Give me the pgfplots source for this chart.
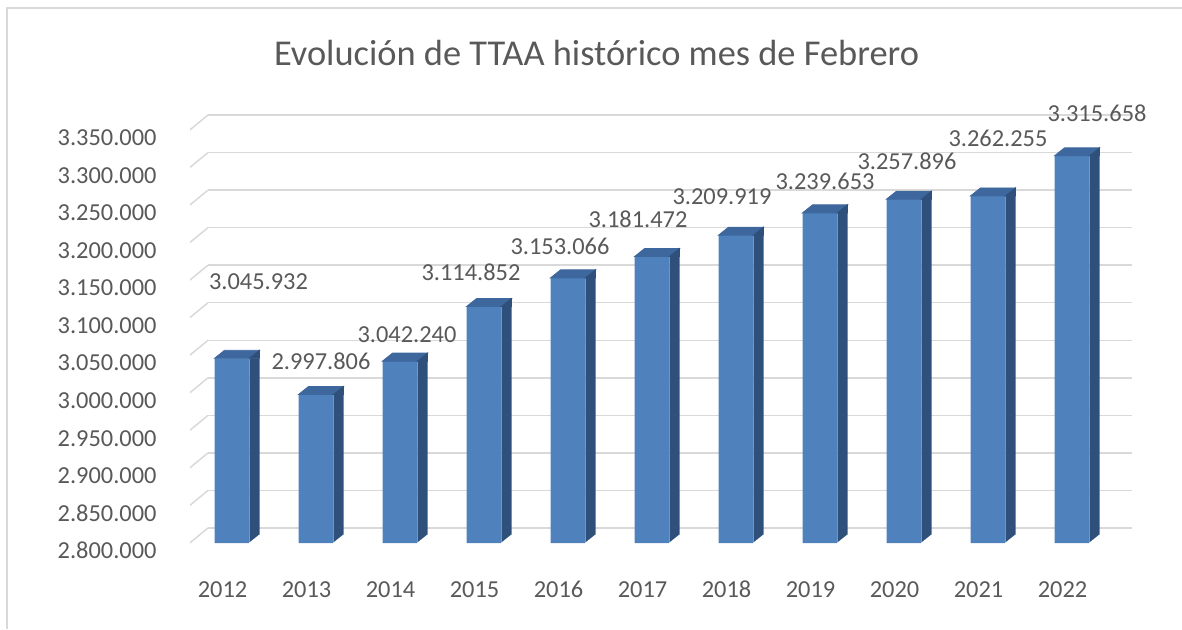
\documentclass[border=0pt]{standalone}
\usepackage{pgfplots}
\pgfplotsset{compat=1.18}
\usepackage{pgfplotstable}
\usepackage{fontspec}
\setmainfont{Carlito}
\definecolor{frontblue}{RGB}{79,129,189}
\definecolor{topblue}{RGB}{62,103,158}
\definecolor{sideblue}{RGB}{46,80,122}
\definecolor{gridgray}{RGB}{217,217,217}
\definecolor{txtgray}{RGB}{89,89,89}
\pgfdeclareplotmark{nomark}{}

\pgfplotstableread{
x v
0 3045932
1 2997806
2 3042240
3 3114852
4 3153066
5 3181472
6 3209919
7 3239653
8 3257896
9 3262255
10 3315658
}\bardata

\pgfplotstableread{
x y lab
0.315 3147500 3.045.932
1.060 3041000 2.997.806
2.083 3077000 3.042.240
2.845 3159500 3.114.852
3.905 3194100 3.153.066
4.833 3230100 3.181.472
5.833 3260700 3.209.919
7.060 3280700 3.239.653
8.036 3307300 3.257.896
9.119 3337900 3.262.255
10.298 3371200 3.315.658
}\labdata

\begin{document}
\begin{tikzpicture}
\path[use as bounding box] (0,0) rectangle (591pt,314.5pt);
\draw[gridgray, line width=1.2pt] (3.5pt,0) -- (3.5pt,310.5pt) -- (591pt,310.5pt);
\node[anchor=base, text=txtgray, inner sep=0pt] at (298.25pt,282pt)
  {\fontsize{18.2}{22}\selectfont Evolución de TTAA histórico mes de Febrero};
\begin{axis}[
  at={(95pt,43pt)}, anchor=south west,
  scale only axis, width=462pt, height=225.27pt,
  xmin=-0.5, xmax=10.5, ymin=2800000, ymax=3400000,
  axis line style={draw=none},
  major tick length=0pt,
  xtick={0,1,2,3,4,5,6,7,8,9,10},
  xticklabels={2012,2013,2014,2015,2016,2017,2018,2019,2020,2021,2022},
  ytick={2800000,2850000,2900000,2950000,3000000,3050000,3100000,3150000,3200000,3250000,3300000,3350000},
  scaled y ticks=false,
  /pgf/number format/assume math mode=true,
  yticklabel style={anchor=base east, inner sep=0pt, xshift=-16.5pt, yshift=-7.85pt,
    /pgf/number format/fixed, /pgf/number format/precision=0, /pgf/number format/1000 sep={.}},
  xticklabel style={anchor=base, inner sep=0pt, yshift=-27.35pt, xshift=-4.75pt},
  tick label style={font=\fontsize{12.2}{14}\selectfont, text=txtgray},
  ymajorgrids,
  major grid style={gridgray, line width=0.75pt, xshift=9pt, yshift=7.5pt},
]
\pgfplotsinvokeforeach{2800000,2850000,2900000,2950000,3000000,3050000,3100000,3150000,3200000,3250000,3300000,3350000}{
  \draw[gridgray, line width=0.75pt] (axis cs:-0.5,#1) ++(-5pt,-4pt) -- ++(14pt,11.5pt);
}
% side faces (dark), then front faces
\addplot[ybar, bar width=5pt, bar shift=11.25pt, fill=sideblue, draw=none] table[x=x,y=v]{\bardata};
\addplot[ybar, bar width=17.5pt, bar shift=0pt, fill=frontblue, draw=none] table[x=x,y=v]{\bardata};
% top faces and top of side faces
\addplot[scatter, only marks, mark=nomark,
  scatter/@pre marker code/.code={%
    \fill[topblue] (-8.75pt,0pt) -- (8.75pt,0pt) -- (13.75pt,4pt) -- (-3.75pt,4pt) -- cycle;
    \fill[sideblue] (8.75pt,0pt) -- (13.75pt,4pt) -- (13.75pt,0pt) -- cycle;
  },
  scatter/@post marker code/.code={},
] table[x=x,y=v]{\bardata};
% slanted bottom of side faces
\addplot[scatter, only marks, mark=nomark,
  scatter/@pre marker code/.code={%
    \fill[white] (8.75pt,-0.6pt) -- (14.2pt,-0.6pt) -- (14.2pt,4pt) -- (13.75pt,4pt) -- (8.75pt,0pt) -- cycle;
  },
  scatter/@post marker code/.code={},
] table[x=x,y expr=2800000]{\bardata};
\addplot[only marks, mark=nomark, point meta=explicit symbolic,
  nodes near coords,
  every node near coord/.append style={anchor=base, yshift=-3.85pt, inner sep=0pt,
    font=\fontsize{12.2}{14}\selectfont, text=txtgray}]
  table[x=x,y=y,meta=lab]{\labdata};
\end{axis}
\end{tikzpicture}
\end{document}
